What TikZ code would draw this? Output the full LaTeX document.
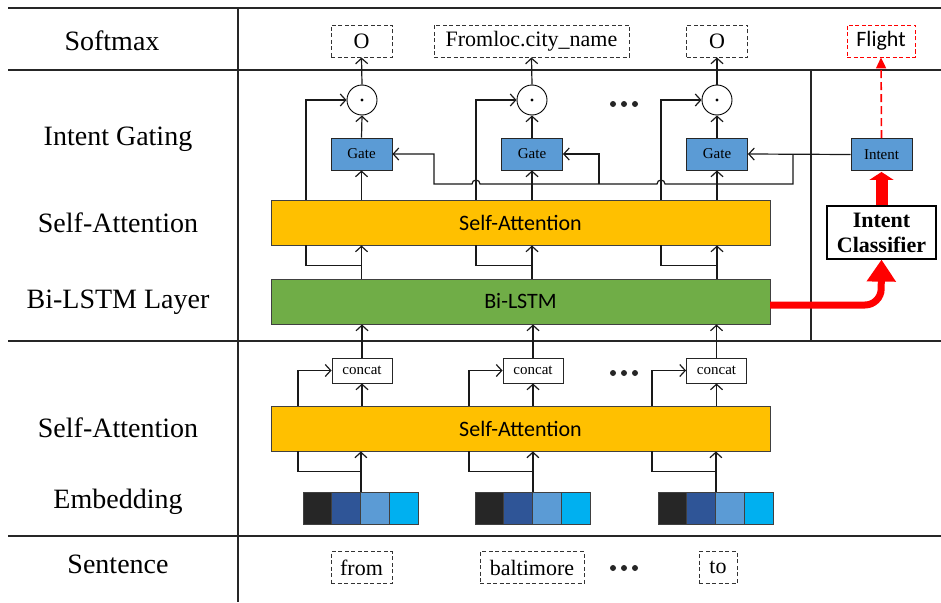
\documentclass[tikz,border=0pt]{standalone}
\usepackage{fontspec}
\setmainfont{Liberation Serif}
\newfontfamily\carlito{Carlito}
\usetikzlibrary{arrows.meta}
\definecolor{gateblue}{HTML}{5B9BD5}
\definecolor{saorange}{HTML}{FFC000}
\definecolor{lstmgreen}{HTML}{70AD47}
\definecolor{embk}{HTML}{262626}
\definecolor{embdb}{HTML}{2F5597}
\definecolor{emblb}{HTML}{5B9BD5}
\definecolor{embcy}{HTML}{00B0F0}
\definecolor{redarrow}{HTML}{FF0000}
\begin{document}
\begin{tikzpicture}[x=1pt,y=-1pt,
  frame/.style={line width=1.3pt, black!85},
  lbl/.style={font=\fontsize{28}{31}\selectfont},
  outbox/.style={draw=black!80, dash pattern=on 4pt off 2.5pt, line width=0.9pt, minimum height=32pt, inner sep=0pt, font=\fontsize{22}{26}\selectfont},
  gatebox/.style={draw=black!85, fill=gateblue, line width=0.9pt, minimum width=61pt, minimum height=32pt, inner sep=0pt, font=\fontsize{15}{18}\selectfont},
  wide/.style={draw=black!75, line width=0.9pt, minimum width=499pt, minimum height=45pt, inner sep=0pt, font=\carlito\fontsize{22}{26}\selectfont},
  catbox/.style={draw=black!85, fill=white, line width=0.9pt, minimum width=60pt, minimum height=25pt, inner sep=0pt, font=\fontsize{15}{18}\selectfont},
  dotc/.style={circle, draw=black, line width=0.9pt, fill=white, minimum size=30pt, inner sep=0pt},
  emb/.style={draw=black!75, line width=0.8pt, minimum width=28.75pt, minimum height=32pt, inner sep=0pt},
  conn/.style={line width=1.2pt, black!90},
  arr/.style={conn, -{Straight Barb[length=5.5pt,width=12pt]}},
]
\useasboundingbox (0,0) rectangle (941,602);

% frame
\draw[frame] (8,8) -- (941,8);
\draw[frame] (8,70) -- (941,70);
\draw[frame] (8,341) -- (941,341);
\draw[frame] (8,536) -- (941,536);
\draw[frame] (238,8) -- (238,602);
\draw[frame] (811,70) -- (811,341);

% left labels
\node[lbl] (lsoft) at (112,41) {Softmax};
\node[lbl] (lgate) at (118,139) {Intent Gating};
\node[lbl] (lsa1) at (118,223) {Self-Attention};
\node[lbl] (lbil) at (118,302) {Bi-LSTM Layer};
\node[lbl] (lsa2) at (118,428) {Self-Attention};
\node[lbl] (lemb) at (118,502) {Embedding};
\node[lbl] (lsen) at (118,564) {Sentence};

% outputs
\node[outbox, minimum width=61pt] (o1) at (361.5,41) {O};
\node[outbox, minimum width=195pt] (o2) at (531.5,41) {Fromloc.city\_name};
\node[outbox, minimum width=61pt] (o3) at (717,41) {O};
\node[outbox, minimum width=68pt, draw=redarrow, font=\carlito\fontsize{22}{26}\selectfont] (flight) at (881,41) {Flight};

% circles
\node[dotc] (c1) at (362,100) {};
\node[dotc] (c2) at (532,100) {};
\node[dotc] (c3) at (717,100) {};
\foreach \c in {c1,c2,c3} \fill (\c.center) circle[radius=1.6];

% gates
\node[gatebox] (g1) at (361.5,154) {Gate};
\node[gatebox] (g2) at (532,154) {Gate};
\node[gatebox] (g3) at (717,154) {Gate};
\node[gatebox] (intent) at (881.5,154.5) {Intent};

% wide boxes
\node[wide, fill=saorange] (sau) at (520.5,222.5) {Self-Attention};
\node[wide, fill=lstmgreen] (lstm) at (520.5,301.5) {Bi-LSTM};
\node[wide, fill=saorange] (sal) at (520.5,428.5) {Self-Attention};

% concat
\node[catbox] (k1) at (362,370.5) {concat};
\node[catbox] (k2) at (533,370.5) {concat};
\node[catbox] (k3) at (716.5,370.5) {concat};

% embeddings
\foreach \g/\x in {1/303,2/475,3/658}{
  \foreach \k/\col in {1/embk,2/embdb,3/emblb,4/embcy}{
    \node[emb, fill=\col] (e\g\k) at ({\x+28.75*\k-14.375},508) {};
  }
}

% sentence
\node[outbox, minimum width=61pt] (w1) at (361.5,567.5) {from};
\node[outbox, minimum width=104pt] (w2) at (532,567.5) {baltimore};
\node[outbox, minimum width=38pt] (w3) at (718,567.5) {to};

% dots
\foreach \y in {104,373,568}{
  \foreach \dx in {0,11,22} \fill[black!85] ({613+\dx},\y) circle[radius=3];
}

% intent classifier
\node[draw=black, line width=1.2pt, fill=white, minimum width=109pt, minimum height=53pt, inner sep=0pt, align=center, font=\bfseries\fontsize{22}{25}\selectfont] (cls) at (881.5,232.5) {Intent\\Classifier};

% coordinates for side branches
\coordinate (u1) at (306,0);
\coordinate (u2) at (476,0);
\coordinate (u3) at (661,0);
\coordinate (d1) at (298,0);
\coordinate (d2) at (469,0);
\coordinate (d3) at (652,0);

\foreach \i in {1,2,3}{
  % softmax stage
  \draw[arr] (c\i.north) -- (o\i.south);
  \draw[arr] (g\i.north) -- (c\i.south);
  \draw[arr] (sau.north -| u\i) |- (c\i.west);
  \draw[arr] (sau.north -| g\i.south) -- (g\i.south);
  % sa upper <- lstm
  \draw[arr] (lstm.north -| g\i.south) -- (sau.south -| g\i.south);
  \draw[conn] (sau.south -| u\i) -- ++(0,20) -| (g\i.south |- lstm.north);
  % lstm <- concat
  \draw[arr] (k\i.north) -- (lstm.south -| k\i.north);
  \draw[arr] (sal.north -| d\i) |- (k\i.west);
  \draw[arr] (sal.north -| k\i.south) -- (k\i.south);
  % sal <- embedding
  \draw[arr] (e\i2.north east) -- (sal.south -| e\i2.north east);
  \draw[conn] (sal.south -| d\i) -- ++(0,20) -| (e\i2.north east);
}

% intent gating bus
\coordinate (bj) at (793,154);
\coordinate (bb) at (793,184);
\coordinate (bg2) at (599,184);
\draw[arr] (intent.west) -- (g3.east);
\draw[arr] (bj) -- (bb) -- (665,184) arc[start angle=0, end angle=-180, radius=4] -- (480,184) arc[start angle=0, end angle=-180, radius=4] -- (434,184) |- (g1.east);
\draw[arr] (bg2) |- (g2.east);

% red arrows
\draw[redarrow, line width=1.6pt, dash pattern=on 8pt off 4pt, -{Triangle[length=11pt,width=10pt]}] (intent.north) -- (flight.south);
\draw[redarrow, line width=12pt, -{Triangle[length=8pt,width=24pt]}, shorten >=1pt] (cls.north) -- (intent.south);
\coordinate (rs) at (770,305);
\coordinate (rc) at (881,305);
\draw[redarrow, line width=7pt, rounded corners=16pt, -{Triangle[length=22pt,width=28pt]}] (rs) -- (rc) -- (cls.south);
\end{tikzpicture}
\end{document}
